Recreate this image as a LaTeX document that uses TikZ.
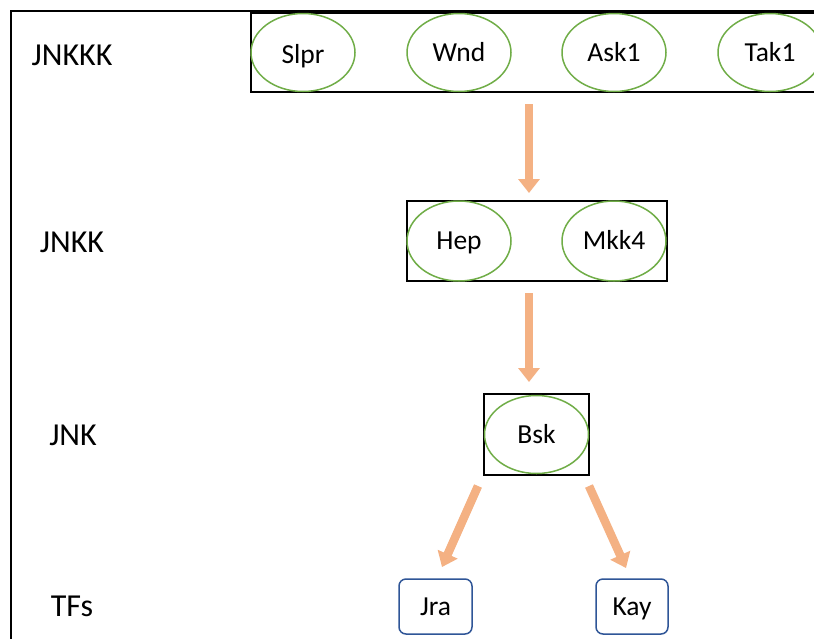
\documentclass[tikz,border=0pt]{standalone}
\usepackage{fontspec}
\setmainfont{Carlito}
\usetikzlibrary{shapes.geometric,arrows.meta}
\definecolor{ellgreen}{HTML}{70AD47}
\definecolor{arroworange}{HTML}{F4B183}
\definecolor{tfblue}{HTML}{2F5597}
\tikzset{
  gene/.style={ellipse, draw=ellgreen, line width=1.5pt, minimum width=104pt, minimum height=78pt, inner sep=0pt,
    font=\fontsize{27.5}{32}\selectfont, text height=17.7pt, text depth=0pt},
  groupbox/.style={draw=black, line width=1.8pt, inner sep=0pt},
  tfbox/.style={draw=tfblue, line width=1.5pt, rounded corners=7pt, inner sep=0pt, minimum width=73pt, minimum height=55pt,
    font=\fontsize{27.5}{32}\selectfont, text height=17.7pt, text depth=0pt},
  levellabel/.style={font=\fontsize{32}{38}\selectfont, text height=20.6pt, text depth=0pt, inner sep=0pt},
  flow/.style={draw=arroworange, line width=8.5pt, -{Triangle[width=21pt,length=14pt]}},
}
\begin{document}
\begin{tikzpicture}[x=1pt,y=-1pt]
\clip (0,0) rectangle (814,638);
\fill[white] (0,0) rectangle (814,638);
% outer frame
\coordinate (fbl) at (11,640);
\coordinate (ftl) at (11,11);
\coordinate (ftr) at (820,11);
\draw[line width=2pt] (fbl) -- (ftl) -- (ftr);
% group boxes
\node[groupbox, minimum width=580pt, minimum height=79pt] (kkkbox) at (541,52.5) {};
\node[groupbox, minimum width=260pt, minimum height=80pt] (kkbox) at (537,241) {};
\node[groupbox, minimum width=105pt, minimum height=81pt] (kbox) at (536.5,434.5) {};
% level labels
\node[levellabel] (lkkk) at (72,55) {JNKKK};
\node[levellabel] (lkk) at (72,242) {JNKK};
\node[levellabel] (lk) at (73,435) {JNK};
\node[levellabel] (ltf) at (72,606) {TFs};
% genes
\node[gene] (slpr) at (303,52.5) {\raisebox{-2pt}{Slpr}};
\node[gene] (wnd) at (459,52.5) {Wnd};
\node[gene] (ask1) at (614,52.5) {Ask1};
\node[gene] (tak1) at (770,52.5) {Tak1};
\node[gene, minimum height=80pt] (hep) at (459,241) {Hep};
\node[gene, minimum height=80pt] (mkk4) at (614,241) {Mkk4};
\node[gene] (bsk) at (536.5,434.5) {Bsk};
\node[tfbox] (jra) at (435.5,606.5) {Jra};
\node[tfbox, minimum width=72pt] (kay) at (632,606.5) {Kay};
% arrows
\coordinate (a1s) at (529,104);
\coordinate (a1e) at (529,193);
\coordinate (a2s) at (529,293);
\coordinate (a2e) at (529,382);
\coordinate (a3s) at (478,486);
\coordinate (a3e) at (442,567);
\coordinate (a4s) at (589,486);
\coordinate (a4e) at (626,568);
\draw[flow] (a1s) -- (a1e);
\draw[flow] (a2s) -- (a2e);
\draw[flow] (a3s) -- (a3e);
\draw[flow] (a4s) -- (a4e);
\end{tikzpicture}
\end{document}
